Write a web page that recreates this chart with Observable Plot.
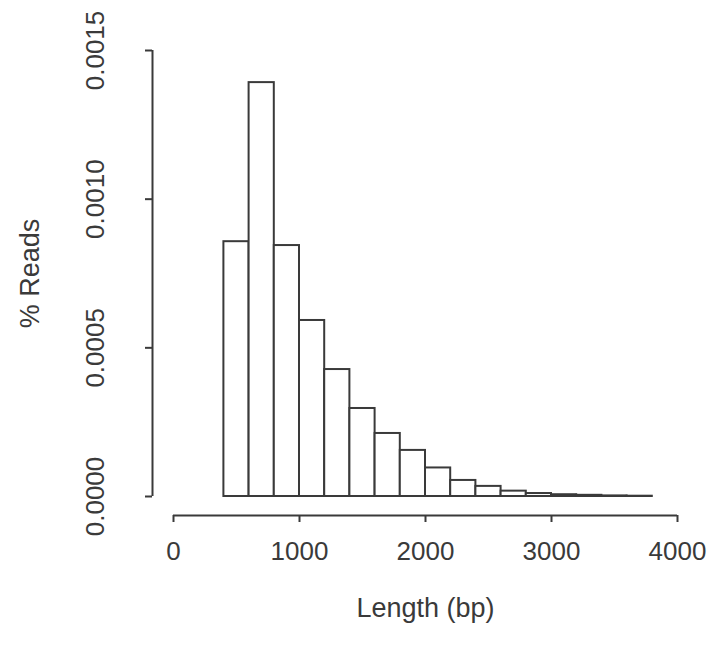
<!DOCTYPE html>
<html>
<head>
<meta charset="utf-8">
<script src="https://cdn.jsdelivr.net/npm/d3@7"></script>
<script src="https://cdn.jsdelivr.net/npm/@observablehq/plot@0.6"></script>
<style>
  html, body { margin: 0; padding: 0; background: #fff; }
  svg { display: block; }
</style>
</head>
<body>
<div id="chart"></div>
<script>
// Histogram bins (bp) and density values
const binStarts = [400, 600, 800, 1000, 1200, 1400, 1600, 1800, 2000, 2200, 2400, 2600, 2800, 3000, 3200, 3400, 3600];
const binWidth = 200;
const density = [0.000857, 0.001392, 0.000844, 0.000592, 0.000427, 0.000296, 0.000212, 0.000155, 0.000096, 0.000054, 0.000034, 0.000018, 0.000010, 0.000006, 0.000004, 0.000002, 0.000001];

const xTicks = [0, 1000, 2000, 3000, 4000];
const xTickLabels = ["0", "1000", "2000", "3000", "4000"];
const yTicks = [0, 0.0005, 0.0010, 0.0015];
const yTickLabels = ["0.0000", "0.0005", "0.0010", "0.0015"];
const xTitle = "Length (bp)";
const yTitle = "% Reads";

const bars = binStarts.map((s, i) => ({x1: s, x2: s + binWidth, y: density[i]}));

const ink = "#3a3a3a";
const font = "'Liberation Sans', Arial, Helvetica, sans-serif";

const chart = Plot.plot({
  width: 715,
  height: 659,
  marginLeft: 173,
  marginRight: 38,
  marginTop: 50,
  marginBottom: 163,
  style: {fontFamily: font, color: ink, background: "#fff"},
  x: {domain: [0, 4000], axis: null},
  y: {domain: [0, 0.0015], axis: null},
  marks: [
    Plot.rectY(bars, {x1: "x1", x2: "x2", y: "y", fill: "#fff", stroke: ink, strokeWidth: 2}),
    // x axis line and ticks
    Plot.ruleY([0], {x1: xTicks[0], x2: xTicks[xTicks.length - 1], dy: 19, stroke: ink, strokeWidth: 2}),
    Plot.axisX({ticks: xTicks, tickSize: 7, dy: 19, tickFormat: () => "", strokeWidth: 2, stroke: ink, label: null}),
    Plot.text(xTicks, {x: d => d, text: (d, i) => xTickLabels[i], frameAnchor: "bottom", dy: 55, textAnchor: "middle", lineAnchor: "middle", fontSize: 26, fill: ink, letterSpacing: 1}),
    // y axis line and ticks
    Plot.ruleX([0], {y1: yTicks[0], y2: yTicks[yTicks.length - 1], dx: -21, frameAnchor: "left", stroke: ink, strokeWidth: 2}),
    Plot.axisY({ticks: yTicks, tickSize: 7, dx: -21, tickFormat: () => "", strokeWidth: 2, stroke: ink, label: null}),
    Plot.text(yTicks, {y: d => d, text: (d, i) => yTickLabels[i], frameAnchor: "left", dx: -78, rotate: -90, textAnchor: "middle", lineAnchor: "middle", fontSize: 26, fill: ink, letterSpacing: 1}),
    // titles
    Plot.text([xTitle], {frameAnchor: "bottom", dy: 112, textAnchor: "middle", lineAnchor: "middle", fontSize: 27, fill: ink, letterSpacing: 1.5}),
    Plot.text([yTitle], {frameAnchor: "left", dx: -143, rotate: -90, textAnchor: "middle", lineAnchor: "middle", fontSize: 27, fill: ink, letterSpacing: 1.5})
  ]
});
document.getElementById("chart").appendChild(chart);
</script>
</body>
</html>
